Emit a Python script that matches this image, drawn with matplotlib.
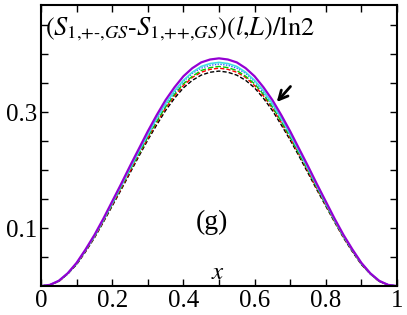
import numpy as np
from matplotlib import pyplot as plt

x = [0.0, 0.025, 0.05, 0.075, 0.1, 0.125, 0.15, 0.175, 0.2, 0.225, 0.25,
     0.275, 0.3, 0.325, 0.35, 0.375, 0.4, 0.425, 0.45, 0.475, 0.5,
     0.525, 0.55, 0.575, 0.6, 0.625, 0.65, 0.675, 0.7, 0.725, 0.75,
     0.775, 0.8, 0.825, 0.85, 0.875, 0.9, 0.925, 0.95, 0.975, 1.0]

purple = [0, .002, .009, .022, .040, .063, .088, .116, .146, .176, .207,
          .237, .267, .295, .321, .343, .362, .376, .386, .391, .393,
          .391, .386, .376, .362, .343, .321, .295, .267, .237, .207,
          .176, .146, .116, .088, .063, .040, .022, .009, .002, 0]
cyan = [0, .002, .009, .022, .039, .062, .086, .114, .143, .173, .203,
        .233, .262, .290, .315, .337, .355, .369, .379, .384, .386,
        .384, .379, .369, .355, .337, .315, .290, .262, .233, .203,
        .173, .143, .114, .086, .062, .039, .022, .009, .002, 0]
blue = [0, .002, .009, .021, .039, .061, .086, .113, .142, .172, .202,
        .231, .260, .288, .313, .334, .353, .367, .376, .381, .383,
        .381, .376, .367, .353, .334, .313, .288, .260, .231, .202,
        .172, .142, .113, .086, .061, .039, .021, .009, .002, 0]
green = [0, .002, .008, .021, .038, .061, .085, .112, .141, .170, .200,
         .228, .257, .284, .309, .331, .349, .362, .372, .377, .379,
         .377, .372, .362, .349, .331, .309, .284, .257, .228, .200,
         .170, .141, .112, .085, .061, .038, .021, .008, .002, 0]
red = [0, .002, .008, .021, .038, .060, .084, .111, .140, .168, .198,
       .227, .255, .282, .307, .328, .346, .360, .369, .374, .376,
       .374, .369, .360, .346, .328, .307, .282, .255, .227, .198,
       .168, .140, .111, .084, .060, .038, .021, .008, .002, 0]
black = [0, .002, .008, .021, .037, .059, .083, .110, .138, .166, .195,
         .224, .252, .278, .303, .324, .342, .355, .364, .369, .371,
         .369, .364, .355, .342, .324, .303, .278, .252, .224, .195,
         .166, .138, .110, .083, .059, .037, .021, .008, .002, 0]

xticks = [0, 0.2, 0.4, 0.6, 0.8, 1]
xtick_labels = ['0', '0.2', '0.4', '0.6', '0.8', '1']
yticks = [0.1, 0.3]
ytick_labels = ['0.1', '0.3']

plt.rcParams['font.family'] = ['Liberation Serif', 'DejaVu Serif']
plt.rcParams['mathtext.fontset'] = 'stix'

fig = plt.figure(figsize=(4.07, 3.15), dpi=100)
ax = fig.add_axes([0.1007, 0.092, 0.8747, 0.892])

ax.plot(x, black, color='black', lw=1.0, linestyle=(0, (3, 1.5)))
ax.plot(x, red, color='red', lw=1.0, linestyle=(0, (3, 1.5)))
ax.plot(x, green, color='#00cc00', lw=1.0, linestyle=(0, (4, 1.5)))
ax.plot(x, blue, color='#3060ff', lw=1.0, linestyle=(0, (1, 1)))
ax.plot(x, cyan, color='#40e0e0', lw=1.2)
ax.plot(x, purple, color='#9400d3', lw=1.6)

ax.set_xlim(0, 1)
ax.set_ylim(0, 0.485)

ax.set_xticks(xticks)
ax.set_xticklabels(xtick_labels)
ax.set_xticks(np.arange(0.1, 1.0, 0.2), minor=True)
ax.set_yticks(yticks)
ax.set_yticklabels(ytick_labels)
ax.set_yticks([0.05, 0.15, 0.2, 0.25, 0.35, 0.4, 0.45], minor=True)

ax.tick_params(which='both', direction='in', top=True, right=True, length=5, width=1)
ax.tick_params(which='major', labelsize=18, pad=3)
for s in ax.spines.values():
    s.set_linewidth(1.5)

ax.text(0.011, 0.893,
        r'$(S_{1{,}{+}\text{-}{,}GS}\text{-}S_{1{,}{+}{+}{,}GS})(l{,}L)/\mathrm{ln}2$',
        transform=ax.transAxes, fontsize=19, va='baseline', ha='left')
ax.text(0.48, 0.11, '(g)', fontsize=20, ha='center', va='center')
ax.text(0.497, 0.022, r'$x$', fontsize=18, ha='center', va='center')

ax.annotate('', xy=(0.657, 0.314), xytext=(0.706, 0.348),
            arrowprops=dict(arrowstyle='->', color='black', lw=2, mutation_scale=16))

plt.savefig('out.png')
